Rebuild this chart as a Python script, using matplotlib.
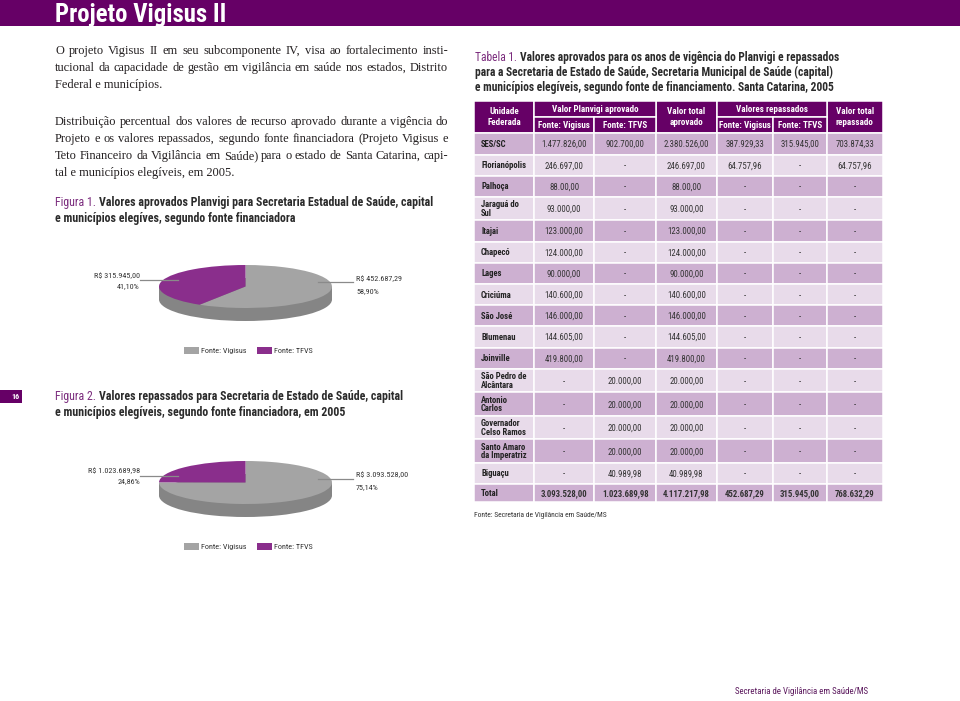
import matplotlib
matplotlib.use('Agg')
import matplotlib.pyplot as plt
from matplotlib import font_manager as fm
from matplotlib.patches import Rectangle
from matplotlib.lines import Line2D

# ---- data ----
fig1_values = [452687.29, 315945.00]          # Vigisus, TFVS
fig1_labels = ['R$ 452.687,29', 'R$ 315.945,00']
fig1_pcts = ['58,90%', '41,10%']
fig2_values = [3093528.00, 1023689.98]
fig2_labels = ['R$ 3.093.528,00', 'R$ 1.023.689,98']
fig2_pcts = ['75,14%', '24,86%']
legend_names = ['Fonte: Vigisus', 'Fonte: TFVS']

units = ['SES/SC', 'Florianópolis', 'Palhoça', 'Jaraguá do\nSul', 'Itajai', 'Chapecó',
         'Lages', 'Criciúma', 'São José', 'Blumenau', 'Joinville', 'São Pedro de\nAlcântara',
         'Antonio\nCarlos', 'Governador\nCelso Ramos', 'Santo Amaro\nda Imperatriz',
         'Biguaçu', 'Total']
apr_vigisus = ['1.477.826,00', '246.697,00', '88.00,00', '93.000,00', '123.000,00', '124.000,00',
               '90.000,00', '140.600,00', '146.000,00', '144.605,00', '419.800,00',
               '-', '-', '-', '-', '-', '3.093.528,00']
apr_tfvs = ['902.700,00', '-', '-', '-', '-', '-', '-', '-', '-', '-', '-',
            '20.000,00', '20.000,00', '20.000,00', '20.000,00', '40.989,98', '1.023.689,98']
apr_total = ['2.380.526,00', '246.697,00', '88.00,00', '93.000,00', '123.000,00', '124.000,00',
             '90.000,00', '140.600,00', '146.000,00', '144.605,00', '419.800,00',
             '20.000,00', '20.000,00', '20.000,00', '20.000,00', '40.989,98', '4.117.217,98']
rep_vigisus = ['387.929,33', '64.757,96'] + ['-'] * 14 + ['452.687,29']
rep_tfvs = ['315.945,00', '-'] + ['-'] * 14 + ['315.945,00']
rep_total = ['703.874,33', '64.757,96'] + ['-'] * 14 + ['768.632,29']

# ---- fonts: look for a condensed sans, else plain Liberation Sans ----
fonts = fm.fontManager.ttflist
names = {f.name for f in fonts}
COND = dict(family=['Liberation Sans', 'DejaVu Sans'])
STRETCH = 1.1      # how much wider than the reference a non-condensed text may get
for n in ['Liberation Sans Narrow', 'Roboto Condensed', 'Open Sans Condensed',
          'Noto Sans Condensed', 'Noto Sans SemiCondensed', 'DejaVu Sans Condensed']:
    if n in names:
        COND = dict(family=[n, 'DejaVu Sans'])
        STRETCH = 1.0
        break
else:
    if any(f.name == 'DejaVu Sans' and f.stretch in ('condensed', 'semi-condensed')
           for f in fonts):
        COND = dict(family=['DejaVu Sans'], fontstretch='condensed')
        STRETCH = 1.0
SERIF = ['Liberation Serif', 'DejaVu Serif']

# ---- style ----
PURPLE = '#660066'
PURPLE_TXT = '#7b2c7d'
PIE_PURPLE = '#8a2e8c'
PIE_GRAY = '#a4a4a4'
PIE_SIDE = '#858585'
ROW_DARK = '#cdb0d1'
ROW_LIGHT = '#e8dbea'
DARK = '#2b2b2b'

W, H = 960, 701
fig = plt.figure(figsize=(9.6, 7.01), dpi=100)
renderer = fig.canvas.get_renderer()


def fx(x):
    return x / W


def fy(y):
    return 1 - y / H


def width_of(t):
    return t.get_window_extent(renderer).width


def fit_size(s, width, **kw):
    t = fig.text(0, 0, s, fontsize=10, **kw)
    w = width_of(t)
    t.remove()
    return 10 * width / w


def put(x, y, s, off=0.28, ax=None, **kw):
    # y is the visual middle of the line; the text sits on a whole-pixel
    # baseline below it so that accents, commas and descenders never shift a word
    em = kw.get('fontsize', 10) * 100 / 72
    if ax is None:
        return fig.text(fx(x), fy(round(y + off * em)), s, va='baseline', **kw)
    return ax.text(x, y + off * em, s, va='baseline', **kw)


def justified(x0, x1, y, line, **kw):
    words = line.split()
    arts = [put(x0, y, w, **kw) for w in words]
    ws = [width_of(a) for a in arts]
    gap = (x1 - x0 - sum(ws)) / (len(words) - 1)
    x = x0
    for a, w in zip(arts, ws):
        a.set_x(fx(x))
        x += w + gap


def hline(x0, x1, y, **kw):
    fig.add_artist(Line2D([fx(x0), fx(x1)], [fy(y), fy(y)], transform=fig.transFigure, **kw))


def caption(x, y, head, rest, size):
    t = put(x, y, head, fontsize=size, color=PURPLE_TXT, **COND)
    put(x + width_of(t) + 3, y, rest, fontsize=size, color=DARK, fontweight='bold', **COND)


# ---- header bar ----
fig.add_artist(Rectangle((0, fy(26)), 1, 26 / H, transform=fig.transFigure,
                         color=PURPLE, lw=0))
ts = fit_size('Projeto Vigisus II', 172 * STRETCH, fontweight='bold', **COND)
put(55, 13, 'Projeto Vigisus II', off=0.36, fontweight='bold', fontsize=ts, color='white', **COND)

# ---- body text ----
para1 = ['O projeto Vigisus II em seu subcomponente IV, visa ao fortalecimento insti-',
         'tucional da capacidade de gestão em vigilância em saúde nos estados, Distrito',
         'Federal e municípios.']
para2 = ['Distribuição percentual dos valores de recurso aprovado durante a vigência do',
         'Projeto e os valores repassados, segundo fonte financiadora (Projeto Vigisus e',
         'Teto Financeiro da Vigilância em Saúde) para o estado de Santa Catarina, capi-',
         'tal e municípios elegíveis, em 2005.']
bs = fit_size(para2[0], 389, family=SERIF)
for lines, y0 in ((para1, 51), (para2, 122)):
    for i, ln in enumerate(lines):
        y = y0 + i * 16.9
        if i < len(lines) - 1:
            justified(55, 448, y, ln, family=SERIF, fontsize=bs, color='#231f20')
        else:
            put(55, y, ln, family=SERIF, fontsize=bs, color='#231f20')

cs = fit_size('Figura 1. Valores aprovados Planvigi para Secretaria Estadual de Saúde, capital',
              378 * STRETCH, fontweight='bold', **COND)
caption(55, 203, 'Figura 1.', 'Valores aprovados Planvigi para Secretaria Estadual de Saúde, capital', cs)
put(55, 219, 'e municípios elegíves, segundo fonte financiadora',
    fontweight='bold', fontsize=cs, color=DARK, **COND)
caption(55, 397, 'Figura 2.', 'Valores repassados para Secretaria de Estado de Saúde, capital', cs)
put(55, 413, 'e municípios elegíveis, segundo fonte financiadora, em 2005',
    fontweight='bold', fontsize=cs, color=DARK, **COND)

# ---- 3D-looking pies ----
ls = fit_size('R$ 315.945,00', 46 * STRETCH, **COND)


def pie3d(cx, cy, rx, ry, depth, values, labels, pcts, ly):
    pad = 4
    ax = fig.add_axes([fx(cx - 1.1 * rx), fy(cy + ry + depth + pad),
                       2.2 * rx / W, (2 * ry + depth + 2 * pad) / H])
    d = depth / ry
    ax.pie([sum(values)], colors=[PIE_SIDE], center=(0, -d), wedgeprops=dict(linewidth=0))
    ax.add_patch(Rectangle((-1, -d), 2, d, color=PIE_SIDE, lw=0))
    ax.pie(values, colors=[PIE_GRAY, PIE_PURPLE], startangle=90, counterclock=False,
           wedgeprops=dict(linewidth=0))
    ax.set_aspect('auto')
    ax.set_xlim(-1.1, 1.1)
    ax.set_ylim(-(ry + depth + pad) / ry, (ry + pad) / ry)
    ax.axis('off')
    # leader lines and labels
    hline(140, cx - 0.78 * rx, ly[0], color='#8a8a8a', lw=0.9)
    hline(cx + 0.84 * rx, 353, ly[1], color='#8a8a8a', lw=0.9)
    lkw = dict(fontsize=ls, color='#333333', off=0.34, **COND)
    put(140, ly[0] - 5, labels[1], ha='right', **lkw)
    put(140, ly[0] + 5, pcts[1], ha='right', **lkw)
    put(356, ly[1] - 4, labels[0], ha='left', **lkw)
    put(356, ly[1] + 7.5, pcts[0], ha='left', **lkw)


def legend(y):
    fig.add_artist(Rectangle((fx(184), fy(y + 3.5)), 15 / W, 7 / H,
                             transform=fig.transFigure, color=PIE_GRAY, lw=0))
    put(201, y, legend_names[0], fontsize=ls, color='#333333', off=0.34, **COND)
    fig.add_artist(Rectangle((fx(257), fy(y + 3.5)), 15 / W, 7 / H,
                             transform=fig.transFigure, color=PIE_PURPLE, lw=0))
    put(274, y, legend_names[1], fontsize=ls, color='#333333', off=0.34, **COND)


pie3d(245.5, 286.5, 86.5, 21.5, 13, fig1_values, fig1_labels, fig1_pcts, (280, 282.3))
legend(350)
pie3d(245.5, 482.5, 86.5, 21.5, 13, fig2_values, fig2_labels, fig2_pcts, (475.7, 478.7))
legend(546)

# ---- page number tab ----
fig.add_artist(Rectangle((0, fy(403)), 22 / W, 13 / H, transform=fig.transFigure,
                         color=PURPLE, lw=0))
put(19, 396.5, '16', off=0.36, ha='right', fontweight='bold', fontsize=ls, color='white', **COND)

# ---- table caption ----
tcs = fit_size('Tabela 1. Valores aprovados para os anos de vigência do Planvigi e repassados',
               367 * STRETCH, fontweight='bold', **COND)
caption(475, 58, 'Tabela 1.', 'Valores aprovados para os anos de vigência do Planvigi e repassados', tcs)
put(475, 73, 'para a Secretaria de Estado de Saúde, Secretaria Municipal de Saúde (capital)',
    fontweight='bold', fontsize=tcs, color=DARK, **COND)
put(475, 88, 'e municípios elegíveis, segundo fonte de financiamento. Santa Catarina, 2005',
    fontweight='bold', fontsize=tcs, color=DARK, **COND)

# ---- table ----
edges = [0, 60, 120.3, 182, 242.7, 299.3, 352.7, 408.7]
hdr_h = 32.6
heights = [18 if u == 'Total' else (23.5 if '\n' in u else 21.2) for u in units]
tab_h = hdr_h + sum(heights)
tax = fig.add_axes([fx(474), fy(100.7 + tab_h), 408.7 / W, tab_h / H])
tax.set_xlim(0, 408.7)
tax.set_ylim(tab_h, 0)
tax.axis('off')

hs = min(fit_size('Valor Planvigi aprovado', 92 * STRETCH, fontweight='bold', **COND),
         fit_size('Fonte: Vigisus', 52, fontweight='bold', **COND))
ns = fit_size('1.477.826,00', 45 * STRETCH, **COND)
fs = fit_size('Florianópolis', 45 * STRETCH, fontweight='bold', **COND)


def cell(x0, x1, y0, y1, color):
    tax.add_patch(Rectangle((x0, y0), x1 - x0, y1 - y0, facecolor=color,
                            edgecolor='white', lw=1.1))


half = hdr_h / 2
for c in (0, 3, 6):
    cell(edges[c], edges[c + 1], 0, hdr_h, PURPLE)
for c in (1, 4):
    cell(edges[c], edges[c + 2], 0, half, PURPLE)
    cell(edges[c], edges[c + 1], half, hdr_h, PURPLE)
    cell(edges[c + 1], edges[c + 2], half, hdr_h, PURPLE)

hkw = dict(ha='center', va='center', fontweight='bold', fontsize=hs,
           color='white', linespacing=1.2, **COND)
tax.text(30, hdr_h / 2, 'Unidade\nFederada', **hkw)
tax.text((edges[3] + edges[4]) / 2, hdr_h / 2, 'Valor total\naprovado', **hkw)
tax.text((edges[6] + edges[7]) / 2, hdr_h / 2, 'Valor total\nrepassado', **hkw)
skw = dict(ha='center', fontweight='bold', fontsize=hs, color='white', off=0.33, ax=tax, **COND)
put((edges[1] + edges[3]) / 2, half / 2 + 0.3, 'Valor Planvigi aprovado', **skw)
put((edges[4] + edges[6]) / 2, half / 2 + 0.3, 'Valores repassados', **skw)
for c in (1, 2, 4, 5):
    put((edges[c] + edges[c + 1]) / 2, half + half / 2 + 0.3,
        'Fonte: Vigisus' if c in (1, 4) else 'Fonte: TFVS', **skw)

columns = [apr_vigisus, apr_tfvs, apr_total, rep_vigisus, rep_tfvs, rep_total]
y = hdr_h
for i, u in enumerate(units):
    h = heights[i]
    color = ROW_DARK if i % 2 == 0 else ROW_LIGHT
    for c in range(7):
        cell(edges[c], edges[c + 1], y, y + h, color)
    bold = u == 'Total'
    if '\n' in u:
        tax.text(7, y + h / 2 + 0.3, u, ha='left', va='center', fontweight='bold',
                 fontsize=fs, color='#222222', linespacing=0.95, **COND)
    else:
        put(7, y + h / 2, u, off=0.34, ax=tax, ha='left', fontweight='bold',
            fontsize=fs, color='#222222', **COND)
    for c, col in enumerate(columns):
        put((edges[c + 1] + edges[c + 2]) / 2, y + h / 2, col[i], off=0.36, ax=tax,
            ha='center', fontsize=ns, color='#333333',
            fontweight='bold' if bold else 'normal', **COND)
    y += h

put(474, 515, 'Fonte: Secretaria de Vigilância em Saúde/MS', color='#333333',
    fontsize=fit_size('Fonte: Secretaria de Vigilância em Saúde/MS', 132 * STRETCH, **COND),
    **COND)

# ---- footer ----
put(735, 692, 'Secretaria de Vigilância em Saúde/MS', color='#5c1a5e',
    fontsize=fit_size('Secretaria de Vigilância em Saúde/MS', 133 * STRETCH, **COND),
    **COND)

fig.savefig('out.png', dpi=100)
